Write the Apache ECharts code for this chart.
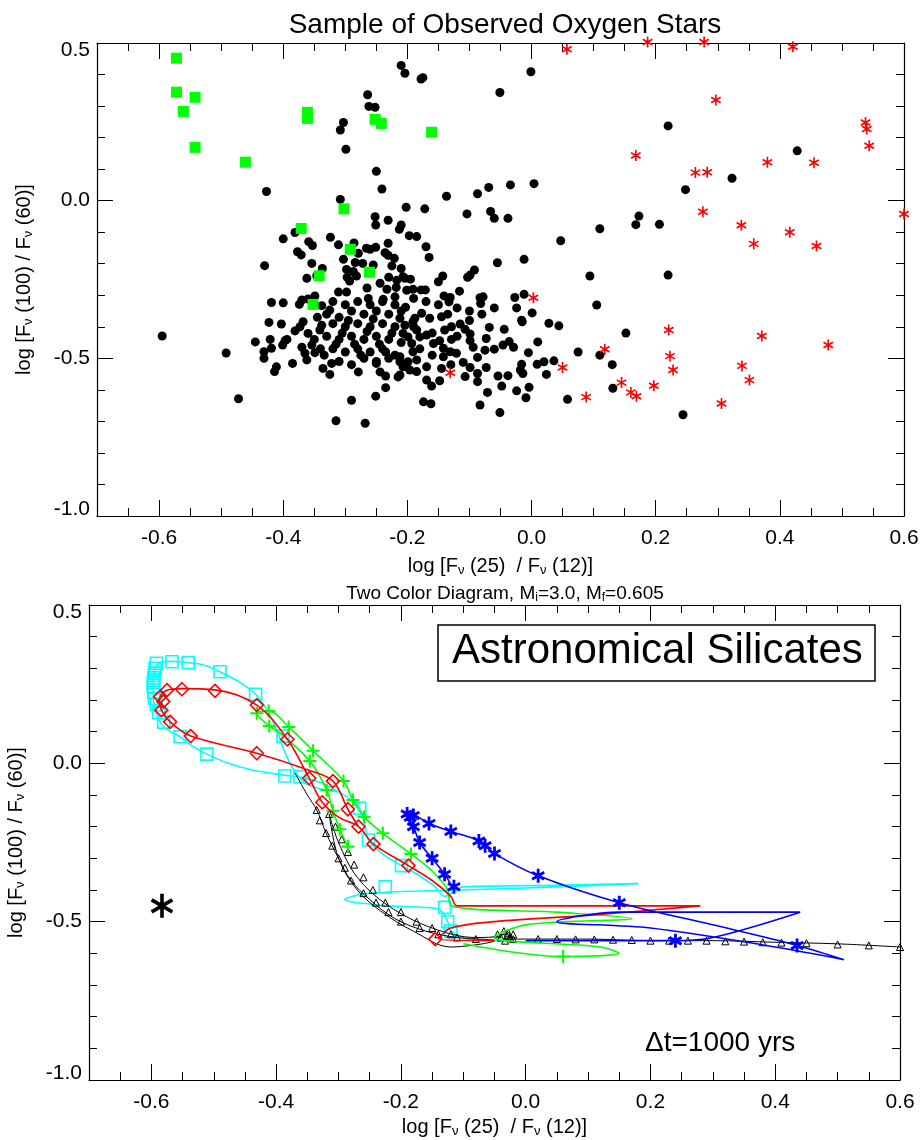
<!DOCTYPE html>
<html><head><meta charset="utf-8">
<script src="https://cdn.jsdelivr.net/npm/echarts@6/dist/echarts.min.js"></script>
<style>html,body{margin:0;padding:0;background:#fff}#c{width:922px;height:1140px}</style>
</head><body><div id="c"></div>
<script>
const FONT = 'Liberation Sans';

// ---- observed sample: log F25/F12 vs log F100/F60 ----
const obsBlack = [
[-0.210,0.429],[-0.204,0.404],[-0.175,0.390],[-0.178,0.386],[-0.001,0.409],[-0.051,0.343],[-0.264,0.336],[-0.262,0.299],[-0.252,0.296],[-0.303,0.248],[-0.308,0.224],[-0.299,0.163],[-0.250,0.093],[-0.241,0.037],[-0.427,0.029],[-0.308,0.004],[-0.137,0.014],[-0.087,0.022],[-0.069,0.042],[-0.034,0.050],[0.004,0.054],[-0.202,-0.021],[-0.172,-0.026],[-0.104,-0.042],[-0.066,-0.034],
[0.220,0.237],[0.428,0.158],[0.323,0.071],[0.248,0.035],[0.173,-0.049],[0.168,-0.076],[0.206,-0.075],[0.110,-0.089],
[-0.472,-0.628],[0.244,-0.679],[0.131,-0.595],[-0.595,-0.429],[-0.492,-0.483],[-0.430,-0.206],[0.094,-0.239],[0.105,-0.331],[0.152,-0.420],[0.220,-0.236],[0.047,-0.127],
[0.075,-0.480],[0.110,-0.490],[0.130,-0.520],
[-0.252,-0.051],[-0.251,-0.077],[-0.231,-0.062],[-0.210,-0.077],[-0.213,-0.091],[-0.381,-0.101],[-0.373,-0.091],[-0.400,-0.121],[-0.324,-0.116],[-0.311,-0.140],[-0.359,-0.130],[-0.353,-0.142],[-0.286,-0.134],[-0.266,-0.151],[-0.251,-0.148],[-0.260,-0.154],[-0.231,-0.135],[-0.377,-0.162],[-0.371,-0.172],[-0.279,-0.167],[-0.236,-0.165],[-0.231,-0.173],[-0.303,-0.186],[-0.221,-0.183],[-0.354,-0.199],[-0.284,-0.196],[-0.272,-0.199],[-0.255,-0.204],[-0.225,-0.207],[-0.337,-0.215],[-0.298,-0.218],[-0.287,-0.225],[-0.210,-0.215],[-0.346,-0.238],[-0.362,-0.246],[-0.297,-0.243],[-0.282,-0.239],[-0.293,-0.255],[-0.230,-0.243],[-0.217,-0.252],[-0.207,-0.241],[-0.244,-0.262],[-0.265,-0.277],[-0.233,-0.281],[-0.218,-0.275],[-0.201,-0.284],[-0.311,-0.290],[-0.298,-0.290],[-0.349,-0.302],[-0.360,-0.312],[-0.370,-0.315],[-0.419,-0.323],[-0.400,-0.324],[-0.374,-0.329],[-0.263,-0.310],[-0.239,-0.313],[-0.220,-0.305],[-0.338,-0.333],[-0.325,-0.347],
[-0.060,-0.056],[-0.038,-0.056],[-0.197,-0.111],[-0.185,-0.114],[-0.170,-0.146],[-0.165,-0.180],[-0.055,-0.197],[-0.012,-0.186],[-0.204,-0.246],[-0.195,-0.249],[-0.092,-0.220],[-0.099,-0.236],[-0.103,-0.243],[-0.143,-0.239],[-0.150,-0.257],[-0.191,-0.281],[-0.178,-0.283],[-0.171,-0.283],[-0.116,-0.287],[-0.141,-0.302],[-0.131,-0.307],[-0.133,-0.321],[-0.083,-0.308],[-0.078,-0.305],[-0.082,-0.326],[-0.027,-0.307],[-0.012,-0.297],[-0.024,-0.340],[0.001,-0.356],[-0.203,-0.338],[-0.177,-0.357],[-0.164,-0.373],[-0.188,-0.373],[-0.145,-0.368],[-0.135,-0.360],[-0.016,-0.379],
[-0.445,-0.448],[-0.423,-0.386],[-0.403,-0.391],[-0.421,-0.440],[-0.419,-0.468],[-0.431,-0.479],[-0.431,-0.500],[-0.397,-0.444],[-0.401,-0.458],[-0.394,-0.440],[-0.411,-0.527],[-0.414,-0.542],[-0.385,-0.516],[-0.381,-0.413],[-0.373,-0.400],[-0.368,-0.384],[-0.360,-0.421],[-0.370,-0.465],[-0.365,-0.484],[-0.362,-0.505],[-0.354,-0.458],[-0.349,-0.482],[-0.341,-0.410],[-0.338,-0.395],[-0.334,-0.490],[-0.322,-0.516],[-0.336,-0.532],[-0.325,-0.551],[-0.279,-0.543],[-0.250,-0.516],[-0.244,-0.543],[-0.235,-0.556],[-0.215,-0.559],[-0.201,-0.527],[-0.212,-0.511],[-0.235,-0.593],[-0.251,-0.620],[-0.290,-0.633],[-0.315,-0.698],[-0.268,-0.706],
[-0.129,-0.400],[-0.115,-0.391],[-0.107,-0.408],[-0.099,-0.423],[-0.068,-0.402],[-0.044,-0.408],[-0.015,-0.384],[0.028,-0.389],[0.044,-0.397],[-0.212,-0.373],[-0.204,-0.395],[-0.191,-0.384],[-0.185,-0.410],[-0.180,-0.432],[-0.169,-0.426],[-0.158,-0.453],[-0.148,-0.444],[-0.129,-0.440],[-0.099,-0.444],[-0.094,-0.465],[-0.073,-0.437],[-0.075,-0.474],[-0.060,-0.471],[-0.046,-0.458],[-0.036,-0.447],[-0.029,-0.465],[-0.005,-0.482],[0.010,-0.448],[-0.142,-0.468],[-0.131,-0.479],[-0.121,-0.484],[-0.142,-0.495],[-0.087,-0.497],[-0.110,-0.513],[-0.073,-0.529],[-0.099,-0.529],[-0.087,-0.548],[-0.087,-0.574],[-0.107,-0.558],[-0.145,-0.532],[-0.016,-0.519],[-0.018,-0.537],[-0.014,-0.548],[0.009,-0.519],[0.020,-0.511],[0.036,-0.508],[0.024,-0.551],[-0.054,-0.556],[-0.038,-0.555],[-0.048,-0.588],[-0.024,-0.603],[-0.004,-0.592],[-0.009,-0.625],[-0.071,-0.608],[-0.083,-0.648],[-0.051,-0.672],[-0.174,-0.638],[-0.162,-0.644],[-0.169,-0.569],[-0.161,-0.588],[-0.148,-0.571],[0.058,-0.630],[-0.212,-0.495],[-0.207,-0.527],[-0.196,-0.537],[-0.185,-0.542],[-0.199,-0.511],[-0.185,-0.505],[-0.191,-0.479],[-0.212,-0.553],[-0.169,-0.527],[-0.193,-0.453],[-0.199,-0.432],[-0.207,-0.421],
[-0.33,-0.36],[-0.31,-0.37],[-0.29,-0.35],[-0.27,-0.36],[-0.25,-0.35],[-0.23,-0.36],[-0.21,-0.35],[-0.32,-0.39],[-0.30,-0.40],[-0.28,-0.39],[-0.26,-0.40],[-0.24,-0.39],[-0.22,-0.40],[-0.33,-0.43],[-0.31,-0.44],[-0.29,-0.43],[-0.27,-0.44],[-0.25,-0.43],[-0.23,-0.44],[-0.21,-0.45],[-0.32,-0.47],[-0.30,-0.48],[-0.28,-0.47],[-0.26,-0.48],[-0.24,-0.47],[-0.22,-0.49],[-0.31,-0.51],[-0.29,-0.52],[-0.27,-0.50],[-0.25,-0.51],[-0.23,-0.50],[-0.30,-0.33],[-0.28,-0.32],[-0.26,-0.33],[-0.24,-0.32],[-0.22,-0.33],[-0.32,-0.32],[-0.345,-0.37],[-0.35,-0.44],[-0.34,-0.47],[-0.305,-0.42],[-0.285,-0.455],[-0.265,-0.415],[-0.245,-0.455],[-0.225,-0.42],[-0.315,-0.455],[-0.295,-0.38],[-0.275,-0.49],[-0.255,-0.375],[-0.235,-0.48],
[-0.19,-0.31],[-0.17,-0.32],[-0.15,-0.33],[-0.12,-0.34],[-0.10,-0.35],[-0.16,-0.42],[-0.14,-0.41],[-0.12,-0.43],[-0.18,-0.47],[-0.16,-0.49],[-0.13,-0.52],[-0.19,-0.40],[-0.10,-0.38],[-0.08,-0.36],[-0.06,-0.34]
];
const obsGreen = [
[-0.572,0.452],[-0.572,0.344],[-0.542,0.328],[-0.561,0.283],[-0.361,0.280],[-0.361,0.261],[-0.252,0.258],[-0.242,0.245],[-0.161,0.217],[-0.542,0.169],[-0.461,0.122],[-0.302,-0.026],[-0.371,-0.088],[-0.292,-0.154],[-0.261,-0.227],[-0.342,-0.238],[-0.352,-0.329]
];
const obsRed = [
[0.187,0.503],[0.278,0.503],[0.421,0.488],[0.057,0.480],[0.168,0.143],[0.297,0.319],[0.538,0.248],[0.540,0.227],[0.544,0.174],[0.380,0.122],[0.455,0.120],[0.264,0.089],[0.283,0.090],[0.276,-0.035],[0.600,-0.042],[0.338,-0.078],[0.358,-0.137],[0.416,-0.100],[0.459,-0.144],
[0.145,-0.577],[0.160,-0.608],[0.169,-0.620],[0.197,-0.587],[0.351,-0.569],[0.306,-0.643],[0.003,-0.308],[-0.131,-0.546],[0.050,-0.529],
[0.118,-0.471],[0.088,-0.623],[0.221,-0.410],[0.223,-0.493],[0.228,-0.537],[0.339,-0.524],[0.371,-0.429],[0.478,-0.458]
];

// ---- model tracks, M_i = 3.0, astronomical silicates ----
const cyanTrack = [
[-0.30,-0.09],[-0.33,-0.08],[-0.355,-0.06],[-0.375,-0.01],[-0.389,0.05],[-0.40,0.11],[-0.415,0.17],[-0.433,0.218],[-0.46,0.258],[-0.49,0.289],[-0.515,0.31],[-0.541,0.318],[-0.567,0.322],[-0.585,0.318],[-0.594,0.30],[-0.597,0.26],[-0.597,0.22],[-0.595,0.18],[-0.59,0.145],[-0.58,0.115],[-0.565,0.095],[-0.554,0.084],[-0.535,0.055],[-0.511,0.029],[-0.48,0.003],[-0.44,-0.02],[-0.386,-0.038],[-0.362,-0.043],[-0.33,-0.06],[-0.30,-0.09],[-0.28,-0.115],[-0.266,-0.142],[-0.258,-0.19],[-0.252,-0.242],[-0.23,-0.285],[-0.199,-0.323],[-0.17,-0.355],[-0.145,-0.39],[-0.13,-0.42],[-0.10,-0.39],[0.05,-0.385],[0.18,-0.38],[0.05,-0.39],[-0.10,-0.40],[-0.25,-0.41],[-0.29,-0.43],[-0.22,-0.45],[-0.14,-0.46],[-0.125,-0.50],[-0.12,-0.53],[-0.09,-0.555],[-0.04,-0.56]
];
const cyanMarks = [
[-0.592,0.316],[-0.594,0.300],[-0.595,0.285],[-0.596,0.270],[-0.597,0.255],[-0.597,0.240],[-0.596,0.225],[-0.595,0.205],[-0.592,0.185],[-0.588,0.160],[-0.580,0.130],[-0.567,0.321],[-0.541,0.318],[-0.490,0.289],[-0.433,0.218],[-0.389,0.086],[-0.554,0.084],[-0.511,0.029],[-0.386,-0.040],[-0.362,-0.042],[-0.266,-0.142],[-0.252,-0.242],[-0.199,-0.323],[-0.225,-0.39],[-0.13,-0.455],[-0.125,-0.50],[-0.12,-0.53]
];
const redTrack = [
[-0.268,-0.200],[-0.285,-0.145],[-0.309,-0.056],[-0.35,-0.02],[-0.431,0.032],[-0.537,0.086],[-0.570,0.131],[-0.584,0.168],[-0.587,0.195],[-0.586,0.210],[-0.575,0.231],[-0.551,0.236],[-0.498,0.232],[-0.431,0.184],[-0.382,0.076],[-0.347,-0.047],[-0.326,-0.123],[-0.30,-0.17],[-0.268,-0.200],[-0.244,-0.255],[-0.188,-0.323],[-0.15,-0.37],[-0.12,-0.42],[-0.11,-0.45],[0.05,-0.45],[0.28,-0.45],[0.10,-0.48],[-0.05,-0.50],[-0.12,-0.52],[-0.14,-0.555],[-0.05,-0.56]
];
const redMarks = [
[-0.586,0.210],[-0.581,0.195],[-0.575,0.231],[-0.551,0.234],[-0.498,0.229],[-0.431,0.184],[-0.382,0.076],[-0.347,-0.047],[-0.309,-0.056],[-0.326,-0.123],[-0.285,-0.145],[-0.268,-0.200],[-0.244,-0.255],[-0.188,-0.323],[-0.584,0.168],[-0.570,0.131],[-0.537,0.086],[-0.431,0.032],[-0.145,-0.555]
];
const greenTrack = [
[-0.285,-0.263],[-0.298,-0.208],[-0.309,-0.150],[-0.319,-0.084],[-0.346,0.007],[-0.390,0.090],[-0.411,0.118],[-0.431,0.158],[-0.412,0.165],[-0.380,0.115],[-0.341,0.040],[-0.292,-0.056],[-0.277,-0.116],[-0.259,-0.169],[-0.229,-0.221],[-0.184,-0.286],[-0.15,-0.34],[-0.125,-0.40],[-0.12,-0.45],[0.05,-0.47],[0.17,-0.49],[0.0,-0.51],[-0.05,-0.55],[0.12,-0.58],[0.15,-0.60],[0.06,-0.61],[-0.10,-0.57]
];
const greenMarks = [
[-0.431,0.158],[-0.412,0.165],[-0.411,0.118],[-0.380,0.115],[-0.341,0.040],[-0.346,0.007],[-0.292,-0.056],[-0.319,-0.084],[-0.277,-0.116],[-0.309,-0.150],[-0.259,-0.169],[-0.298,-0.208],[-0.229,-0.221],[-0.285,-0.263],[-0.184,-0.286],[0.06,-0.61]
];
const blueTrack = [
[-0.115,-0.40],[-0.13,-0.35],[-0.15,-0.30],[-0.17,-0.25],[-0.18,-0.20],[-0.19,-0.17],[-0.185,-0.16],[-0.155,-0.19],[-0.12,-0.215],[-0.075,-0.245],[-0.05,-0.285],[0.02,-0.355],[0.15,-0.44],[0.30,-0.51],[0.435,-0.575],[0.51,-0.62],[0.40,-0.58],[0.20,-0.52],[0.05,-0.50],[0.15,-0.47],[0.44,-0.47],[0.30,-0.55],[0.24,-0.56],[0.0,-0.56]
];
const blueMarks = [
[-0.19,-0.16],[-0.185,-0.17],[-0.18,-0.165],[-0.155,-0.19],[-0.12,-0.215],[-0.075,-0.245],[-0.065,-0.26],[-0.05,-0.285],[0.02,-0.355],[0.15,-0.44],[0.435,-0.575],[-0.18,-0.20],[-0.17,-0.25],[-0.15,-0.30],[-0.13,-0.35],[-0.115,-0.39],[0.24,-0.56]
];
const blackTrack = [
[-0.37,-0.03],[-0.35,-0.10],[-0.335,-0.147],[-0.32,-0.22],[-0.30,-0.30],[-0.28,-0.37],[-0.25,-0.43],[-0.21,-0.49],[-0.16,-0.53],[-0.11,-0.55],[-0.05,-0.56],[-0.12,-0.58],[-0.18,-0.53],[-0.23,-0.47],[-0.27,-0.40],[-0.30,-0.30],[-0.315,-0.16],[-0.30,-0.25],[-0.27,-0.36],[-0.22,-0.45],[-0.15,-0.52],[-0.08,-0.55],[-0.04,-0.545],[-0.03,-0.53],[-0.025,-0.545],[-0.035,-0.555],[0.0,-0.555],[0.1,-0.555],[0.2,-0.56],[0.3,-0.56],[0.4,-0.565],[0.5,-0.57],[0.6,-0.58]
];
const blackMarks = [
[-0.335,-0.147],[-0.33,-0.18],[-0.32,-0.22],[-0.31,-0.26],[-0.30,-0.30],[-0.29,-0.33],[-0.28,-0.37],[-0.26,-0.41],[-0.24,-0.44],[-0.22,-0.47],[-0.20,-0.50],[-0.17,-0.52],[-0.14,-0.54],[-0.11,-0.55],[-0.08,-0.555],
[-0.315,-0.16],[-0.305,-0.20],[-0.295,-0.24],[-0.285,-0.28],[-0.275,-0.32],[-0.26,-0.36],[-0.245,-0.40],[-0.225,-0.44],[-0.20,-0.47],[-0.175,-0.50],[-0.15,-0.52],[-0.12,-0.54],
[-0.045,-0.54],[-0.04,-0.55],[-0.035,-0.53],[-0.03,-0.545],[-0.028,-0.535],[-0.025,-0.55],[-0.02,-0.54],[-0.033,-0.56],
[-0.02,-0.555],[0.02,-0.555],[0.05,-0.555],[0.08,-0.556],[0.11,-0.556],[0.14,-0.557],[0.17,-0.558],[0.20,-0.56],[0.23,-0.56],[0.26,-0.56],[0.29,-0.56],[0.32,-0.562],[0.35,-0.563],[0.38,-0.565],[0.41,-0.566],[0.45,-0.568],[0.50,-0.572],[0.55,-0.575],[0.60,-0.58]
];
const refStar = [[-0.583,-0.450]];

const xLabelValues = [-0.6,-0.4,-0.2,0,0.2,0.4,0.6];
const xMajorTicks = [-0.6,-0.4,-0.2,0,0.2,0.4,0.6];

// ---- symbols ----
const PLUS = 'path://M-0.8,-5L0.8,-5L0.8,-0.8L5,-0.8L5,0.8L0.8,0.8L0.8,5L-0.8,5L-0.8,0.8L-5,0.8L-5,-0.8L-0.8,-0.8Z';
// six-armed asterisk: one vertical arm pair and two at +/-30 degrees
const STAR = 'path://M-0.75,-5L-0.75,5L0.75,5L0.75,-5Z M-4.705,-1.85L3.955,3.15L4.705,1.85L-3.955,-3.15Z M-4.705,1.85L-3.955,3.15L4.705,-1.85L3.955,-3.15Z';
const STARB = 'path://M-1,-5L-1,5L1,5L1,-5Z M-4.83,-1.63L3.83,3.37L4.83,1.63L-3.83,-3.37Z M-4.83,1.63L-3.83,3.37L4.83,-1.63L3.83,-3.37Z';

const fmt1 = v => (Math.abs(v) < 1e-9 ? 0 : v).toFixed(1);
const SUBRICH = {
  s: { fontFamily: FONT, fontSize: 13, verticalAlign: 'bottom', padding: [9, 0, 0, 0], color: '#000' }
};
const axisNameStyle = { fontFamily: FONT, fontSize: 20, color: '#000', rich: SUBRICH };

function xAxes(grid, gap) {
  const base = { gridIndex: grid, type: 'value', min: -0.7, max: 0.6, splitLine: { show: false } };
  return [
    Object.assign({}, base, {
      position: 'bottom', interval: 0.05,
      axisLine: { show: true, onZero: false, lineStyle: { color: '#000', width: 1.2 } },
      axisTick: { show: true, inside: true, length: 8, lineStyle: { color: '#000' } },
      axisLabel: { show: true, customValues: xLabelValues, formatter: fmt1, margin: 12,
                   fontFamily: FONT, fontSize: 21, color: '#000' },
      name: 'log [F{s|ν} (25)  / F{s|ν} (12)]', nameLocation: 'middle', nameGap: gap,
      nameTextStyle: axisNameStyle
    }),
    Object.assign({}, base, {
      position: 'bottom',
      axisLine: { show: false, onZero: false },
      axisTick: { show: true, inside: true, length: 16, customValues: xMajorTicks, lineStyle: { color: '#000' } },
      axisLabel: { show: false }
    }),
    Object.assign({}, base, {
      position: 'top', interval: 0.05,
      axisLine: { show: true, onZero: false, lineStyle: { color: '#000', width: 1.2 } },
      axisTick: { show: true, inside: true, length: 8, lineStyle: { color: '#000' } },
      axisLabel: { show: false }
    }),
    Object.assign({}, base, {
      position: 'top',
      axisLine: { show: false, onZero: false },
      axisTick: { show: true, inside: true, length: 16, customValues: xMajorTicks, lineStyle: { color: '#000' } },
      axisLabel: { show: false }
    })
  ];
}
function yAxes(grid) {
  const base = { gridIndex: grid, type: 'value', min: -1.0, max: 0.5, interval: 0.5, splitLine: { show: false } };
  return [
    Object.assign({}, base, {
      position: 'left',
      axisLine: { show: true, onZero: false, lineStyle: { color: '#000', width: 1.2 } },
      axisTick: { show: true, inside: true, length: 16, lineStyle: { color: '#000' } },
      minorTick: { show: true, splitNumber: 5, length: 8, lineStyle: { color: '#000' } },
      axisLabel: {
        show: true, margin: 7, fontFamily: FONT, fontSize: 21, color: '#000',
        formatter: v => v >= 0.49 ? '{t|' + fmt1(v) + '}' : (v <= -0.99 ? '{b|' + fmt1(v) + '}' : fmt1(v)),
        rich: {
          t: { fontFamily: FONT, fontSize: 21, color: '#000', padding: [15, 0, 0, 0] },
          b: { fontFamily: FONT, fontSize: 21, color: '#000', padding: [0, 0, 13, 0] }
        }
      },
      name: 'log [F{s|ν} (100) / F{s|ν} (60)]', nameLocation: 'middle', nameGap: 62, nameRotate: 90,
      nameTextStyle: axisNameStyle
    }),
    Object.assign({}, base, {
      position: 'right',
      axisLine: { show: true, onZero: false, lineStyle: { color: '#000', width: 1.2 } },
      axisTick: { show: true, inside: true, length: 16, lineStyle: { color: '#000' } },
      minorTick: { show: true, splitNumber: 5, length: 8, lineStyle: { color: '#000' } },
      axisLabel: { show: false }
    })
  ];
}

function scatter(data, symbol, size, style, xi, yi, z) {
  return { type: 'scatter', data, symbol, symbolSize: size, symbolKeepAspect: true,
           xAxisIndex: xi, yAxisIndex: yi, itemStyle: Object.assign({ opacity: 1 }, style),
           clip: false, z: z || 2, emphasis: { disabled: true }, animation: false };
}
function track(data, color, width, z) {
  return { type: 'line', data, xAxisIndex: 4, yAxisIndex: 2, smooth: 0.35, showSymbol: false,
           lineStyle: { color, width, opacity: 1 }, z: z || 2, clip: true, animation: false,
           emphasis: { disabled: true } };
}
const open = (c, w) => ({ color: 'rgba(0,0,0,0)', borderColor: c, borderWidth: w || 1.5 });

const chart = echarts.init(document.getElementById('c'), null, { renderer: 'canvas' });
chart.setOption({
  animation: false,
  backgroundColor: '#fff',
  title: [
    { text: 'Sample of Observed Oxygen Stars', left: 500, top: 6, textAlign: 'center',
      textStyle: { fontFamily: FONT, fontSize: 28, fontWeight: 'normal', color: '#000' } },
    { text: 'Two Color Diagram, M{s|i}=3.0, M{s|f}=0.605', left: 500, top: 579, textAlign: 'center',
      textStyle: { fontFamily: FONT, fontSize: 19, fontWeight: 'normal', color: '#000',
        rich: { s: { fontFamily: FONT, fontSize: 12, color: '#000', verticalAlign: 'bottom', padding: [8, 0, 0, 0] } } } },
    { text: 'Astronomical Silicates', left: 438, top: 625, padding: [5, 12, 9, 14],
      borderColor: '#000', borderWidth: 1.5,
      textStyle: { fontFamily: FONT, fontSize: 42, fontWeight: 'normal', color: '#000' } },
    { text: 'Δt=1000 yrs', left: 640, top: 1024,
      textStyle: { fontFamily: FONT, fontSize: 28, fontWeight: 'normal', color: '#000' } }
  ],
  grid: [
    { left: 97, top: 43, width: 807, height: 473, outerBoundsMode: 'none', containLabel: false },
    { left: 89, top: 605, width: 811, height: 475, outerBoundsMode: 'none', containLabel: false }
  ],
  xAxis: [...xAxes(0, 39), ...xAxes(1, 36)],
  yAxis: [...yAxes(0), ...yAxes(1)],
  series: [
    scatter(obsBlack, 'circle', 9, { color: '#000' }, 0, 0, 3),
    scatter(obsGreen, 'rect', 11, { color: '#00ff00' }, 0, 0, 4),
    scatter(obsRed, STAR, 11, { color: '#ff0000' }, 0, 0, 5),

    track(cyanTrack, '#00ffff', 1.6, 2),
    scatter(cyanMarks, 'rect', 12, open('#00ffff', 1.6), 4, 2, 3),
    track(blackTrack, '#000', 1, 4),
    scatter(blackMarks, 'triangle', 7, open('#000', 1), 4, 2, 5),
    track(greenTrack, '#00ff00', 1.6, 6),
    scatter(greenMarks, PLUS, 13, { color: '#00ff00' }, 4, 2, 7),
    track(redTrack, '#ff0000', 1.6, 8),
    scatter(redMarks, 'diamond', 13, open('#ff0000', 1.6), 4, 2, 9),
    track(blueTrack, '#0000ff', 1.6, 10),
    scatter(blueMarks, STARB, 14, { color: '#0000ff' }, 4, 2, 11),
    scatter(refStar, STAR, 24, { color: '#000' }, 4, 2, 12)
  ]
});
</script>
</body></html>
